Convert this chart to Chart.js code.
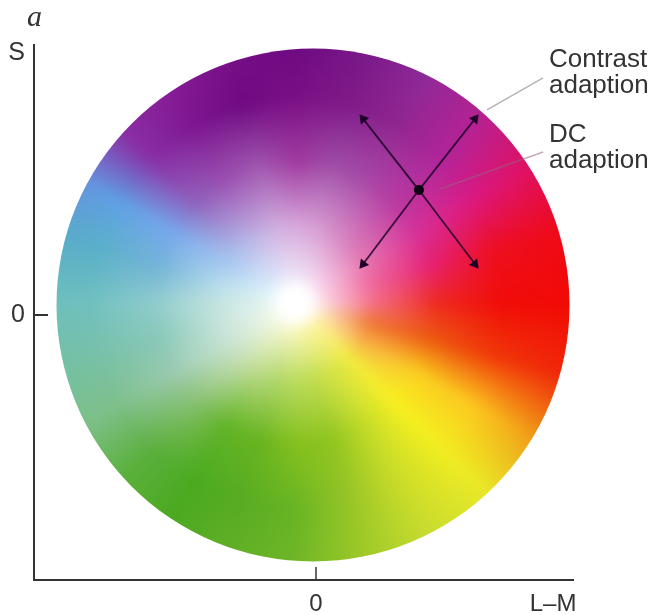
<!DOCTYPE html>
<html>
<head>
<meta charset="utf-8">
<title>Colour wheel</title>
<script src="https://cdn.jsdelivr.net/npm/chart.js@4"></script>
<style>
  html, body { margin: 0; padding: 0; background: #fff; }
  canvas { display: block; }
</style>
</head>
<body>
<canvas id="wheel-chart" width="654" height="615"></canvas>
<script>
// axis ticks, in L-M and S units
const xTickValues = [0, 0.926];
const xTickLabels = ['0', 'L–M'];
const yTickValues = [0, 1.0215];
const yTickLabels = ['0', 'S'];

// colour table: one list per ring, one entry per angle
const wheelAngles = [0, 15, 30, 45, 60, 75, 90, 105, 120, 135, 150, 165, 180, 195, 210, 225, 240, 255, 270, 285, 300, 315, 330, 345];
const wheelRadii = [0.117, 0.30, 0.55, 0.80, 1.055];
const ring1 = ['#fbd5e0', '#fbd0e2', '#f8d0e8', '#f6d4ec', '#f2d8f0', '#eedcf2', '#eadff4', '#e8e2f6', '#e2e4f8', '#dce8fa', '#dceefa', '#dff2f6', '#e4f4f0', '#eaf5ec', '#eef6e4', '#f0f6dc', '#f2f6d0', '#f4f6c4', '#f6f6b8', '#f8f6a8', '#fbf5a0', '#fdf2a0', '#fde8b0', '#fce0c8'];
const ring2 = ['#f4708a', '#ee6aa0', '#e878b0', '#dc80bc', '#d890c8', '#d8a0d4', '#d8a8dc', '#d0b0e0', '#c0b4e4', '#b0bcea', '#a8c8f0', '#b8dcec', '#c4e4e0', '#c8e4dc', '#c8e4d4', '#c8e0b8', '#c0dc90', '#b4d870', '#bcdc60', '#c4de50', '#d8e445', '#f2ea40', '#f8b048', '#f07838'];
const ring3 = ['#ee2a20', '#e62070', '#d63097', '#b83aa0', '#a848a8', '#a050a8', '#a03aa0', '#a058b0', '#9a50b0', '#8f62bc', '#78a8ec', '#74b4d8', '#90cccc', '#88c8b8', '#9ccab0', '#88c070', '#62b428', '#68b420', '#84c01e', '#90c420', '#c4dc28', '#f8f020', '#fad020', '#ec5a10'];
const ring4 = ['#f00c08', '#ee0f20', '#dc1880', '#b0259a', '#90258f', '#7f1a88', '#7a0f85', '#6f0a82', '#7d1590', '#8a2ea6', '#5ea0e4', '#5ab0c8', '#70c0c0', '#78c0a8', '#7ec08a', '#5cb040', '#4aaa20', '#58ac22', '#68b424', '#96c428', '#cadc28', '#f2ee20', '#fcc820', '#f03808'];
const ring5 = ['#f20a05', '#ee0a18', '#e01060', '#b8208f', '#8f2a9a', '#781888', '#6a0880', '#7a1088', '#8a2098', '#8a2aa0', '#6a8adc', '#58aac8', '#6cc0b8', '#70c0a0', '#7cc088', '#5ab038', '#4ea822', '#62b028', '#70b628', '#a0ca28', '#c8dc30', '#e8e828', '#f0a018', '#f02808'];
const wheelRings = [ring1, ring2, ring3, ring4, ring5];

// wheel outline and the white patch the colours fan out from
const wheelCentre = [-0.0117, 0.039];
const wheelRadius = 1.002;
const whitePoint = [-0.08, 0.047];
const whiteCore = 0.06;

// arrows leave the black dot
const adaptPoint = { x: 0.402, y: 0.488 };
const arrowX = [0.621, 0.184, 0.184, 0.621];
const arrowY = [0.766, 0.766, 0.199, 0.199];
const arrowTurn = [38, -38, 218, 142];

// leader lines and axis tick marks
const contrastLeaderX = [0.668, 0.887];
const contrastLeaderY = [0.801, 0.926];
const dcLeaderX = [0.484, 0.887];
const dcLeaderY = [0.492, 0.637];
const xTickMarkY = [-1.0352, -0.984];
const yTickMarkX = [-1.1016, -1.047];

const labelX = 0.910;
const labelLines = [['Contrast', 0.969], ['adaption', 0.867], ['DC', 0.676], ['adaption', 0.574]];

function hexRgb(hex) {
  return [parseInt(hex.slice(1, 3), 16), parseInt(hex.slice(3, 5), 16), parseInt(hex.slice(5, 7), 16)];
}

const ringRgb = [wheelAngles.map(() => [255, 255, 255])].concat(wheelRings.map(r => r.map(hexRgb)));
const ringStops = [whiteCore].concat(wheelRadii);

// bilinear lookup in the colour table
function wheelColour(angle, dist) {
  const step = 360 / wheelAngles.length;
  const a = angle / step;
  const a0 = Math.floor(a) % wheelAngles.length;
  const a1 = (a0 + 1) % wheelAngles.length;
  const ta = a - Math.floor(a);
  let r = 0;
  while (r < ringStops.length - 2 && dist > ringStops[r + 1]) r++;
  const tr = Math.max(0, Math.min(1, (dist - ringStops[r]) / (ringStops[r + 1] - ringStops[r])));
  const out = [];
  for (let c = 0; c < 3; c++) {
    const inner = ringRgb[r][a0][c] * (1 - ta) + ringRgb[r][a1][c] * ta;
    const outer = ringRgb[r + 1][a0][c] * (1 - ta) + ringRgb[r + 1][a1][c] * ta;
    out.push(inner * (1 - tr) + outer * tr);
  }
  return out;
}

const wheelPlugin = {
  id: 'wheel',
  beforeDatasetsDraw(chart) {
    const { ctx, scales: { x, y } } = chart;
    const margin = 12;
    const left = Math.floor(x.getPixelForValue(wheelCentre[0] - wheelRadius)) - margin;
    const right = Math.ceil(x.getPixelForValue(wheelCentre[0] + wheelRadius)) + margin;
    const top = Math.floor(y.getPixelForValue(wheelCentre[1] + wheelRadius)) - margin;
    const bottom = Math.ceil(y.getPixelForValue(wheelCentre[1] - wheelRadius)) + margin;
    const w = right - left, h = bottom - top;
    const off = document.createElement('canvas');
    off.width = w;
    off.height = h;
    const offCtx = off.getContext('2d');
    const img = offCtx.createImageData(w, h);
    for (let j = 0; j < h; j++) {
      const vy = y.getValueForPixel(top + j + 0.5) - whitePoint[1];
      for (let i = 0; i < w; i++) {
        const vx = x.getValueForPixel(left + i + 0.5) - whitePoint[0];
        let angle = Math.atan2(vy, vx) * 180 / Math.PI;
        if (angle < 0) angle += 360;
        const col = wheelColour(angle, Math.hypot(vx, vy));
        const k = (j * w + i) * 4;
        img.data[k] = col[0];
        img.data[k + 1] = col[1];
        img.data[k + 2] = col[2];
        img.data[k + 3] = 255;
      }
    }
    offCtx.putImageData(img, 0, 0);
    ctx.save();
    ctx.beginPath();
    ctx.arc(x.getPixelForValue(wheelCentre[0]), y.getPixelForValue(wheelCentre[1]),
      x.getPixelForValue(wheelRadius) - x.getPixelForValue(0), 0, Math.PI * 2);
    ctx.clip();
    // soften the table's facets, the original is a blurry airbrushed print
    ctx.filter = 'blur(5px)';
    ctx.drawImage(off, left, top);
    ctx.restore();
  },
  afterDraw(chart) {
    const { ctx, scales: { x, y } } = chart;
    ctx.save();
    ctx.fillStyle = '#333';
    ctx.textAlign = 'left';
    ctx.textBaseline = 'alphabetic';
    ctx.font = '26px "Liberation Sans"';
    labelLines.forEach(([text, v]) => ctx.fillText(text, x.getPixelForValue(labelX), y.getPixelForValue(v)));
    ctx.font = 'italic 30px "Liberation Serif"';
    ctx.fillText('a', x.getPixelForValue(-1.129), y.getPixelForValue(1.129));
    ctx.restore();
  }
};

function pairs(xs, ys) {
  return xs.map((v, i) => ({ x: v, y: ys[i] }));
}

const arrowSets = arrowX.map((v, i) => ({
  data: [adaptPoint, { x: v, y: arrowY[i] }],
  showLine: true,
  borderColor: 'rgba(30, 0, 40, 0.85)',
  borderWidth: 1.8,
  pointStyle: 'triangle',
  pointRadius: [0, 6],
  pointRotation: [0, arrowTurn[i]],
  pointBackgroundColor: '#1e0028',
  pointBorderWidth: 0
}));

function plainLine(data, color, width) {
  return { data, showLine: true, borderColor: color, borderWidth: width, pointRadius: 0 };
}

new Chart(document.getElementById('wheel-chart').getContext('2d'), {
  type: 'scatter',
  data: {
    datasets: [
      plainLine(pairs(contrastLeaderX, contrastLeaderY), '#b4b4b4', 1.5),
      plainLine(pairs(dcLeaderX, dcLeaderY), 'rgba(150, 100, 130, 0.55)', 1.5),
      plainLine(pairs([0, 0], xTickMarkY), '#333', 1.5),
      plainLine(pairs(yTickMarkX, [0, 0]), '#333', 2),
      ...arrowSets,
      { data: [adaptPoint], pointRadius: 5, pointBackgroundColor: '#000', pointBorderWidth: 0 }
    ]
  },
  plugins: [wheelPlugin],
  options: {
    responsive: false,
    animation: false,
    layout: { padding: { top: 45, right: 81, left: 0, bottom: 0 } },
    plugins: { legend: { display: false }, tooltip: { enabled: false }, title: { display: false } },
    scales: {
      x: {
        type: 'linear',
        min: -1.1016,
        max: 1.0039,
        grid: { drawOnChartArea: false, drawTicks: false },
        border: { color: '#333', width: 2 },
        afterBuildTicks: s => { s.ticks = xTickValues.map(v => ({ value: v })); },
        afterFit: s => { s.height = 35; },
        ticks: {
          autoSkip: false,
          maxRotation: 0,
          padding: 10,
          color: '#333',
          font: { family: '"Liberation Sans"', size: 24 },
          callback: v => xTickLabels[xTickValues.indexOf(v)]
        }
      },
      y: {
        type: 'linear',
        min: -1.0352,
        max: 1.0547,
        grid: { drawOnChartArea: false, drawTicks: false },
        border: { color: '#333', width: 2 },
        afterBuildTicks: s => { s.ticks = yTickValues.map(v => ({ value: v })); },
        afterFit: s => { s.width = 34; },
        ticks: {
          autoSkip: false,
          padding: 9,
          color: '#333',
          font: { family: '"Liberation Sans"', size: 25 },
          callback: v => yTickLabels[yTickValues.indexOf(v)]
        }
      }
    }
  }
});
</script>
</body>
</html>
